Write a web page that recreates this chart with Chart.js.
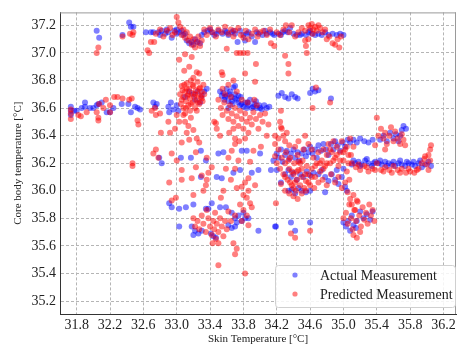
<!DOCTYPE html>
<html>
<head>
<meta charset="utf-8">
<script src="https://cdn.jsdelivr.net/npm/chart.js@4.4.0/dist/chart.umd.min.js"></script>
<style>
  html, body { margin: 0; padding: 0; background: #fff; }
  #wrap { width: 460px; height: 348px; }
</style>
</head>
<body>
<div id="wrap"><canvas id="scatter"></canvas></div>
<script>
// ============================= data (skin temp, core temp)

const xTicks = [31.8, 32.2, 32.6, 33.0, 33.4, 33.8, 34.2, 34.6, 35.0, 35.4, 35.8, 36.2]
const yTicks = [35.2, 35.4, 35.6, 35.8, 36.0, 36.2, 36.4, 36.6, 36.8, 37.0, 37.2]
const seriesLabels = ['Actual Measurement', 'Predicted Measurement']

const actualPoints = [
    // left band
    [31.73,36.61],[31.73,36.58],[31.73,36.55],[31.77,36.58],[31.8,36.58],[31.86,36.6],[31.9,36.64],[31.9,36.61],[31.96,36.6],[32.0,36.6],
    [32.04,36.62],[32.06,36.63],[32.1,36.64],[32.16,36.57],[32.2,36.57],[32.24,36.6],[32.34,36.63],[32.42,36.63],[32.45,36.57],[32.5,36.61],
    [32.53,36.6],[32.56,36.59],[32.72,36.64],[32.74,36.61],[32.76,36.63],[32.9,36.61],[32.93,36.64],[32.96,36.59],[33.0,36.62],[33.02,36.58],
    // top left
    [32.04,37.16],[32.07,37.11],[32.35,37.13],[32.43,37.22],[32.45,37.19],[32.48,37.19],[32.63,37.15],[32.69,37.15],[32.72,37.15],
    // top band
    [32.78,37.15],[32.82,37.16],[32.86,37.14],[32.9,37.15],[32.94,37.11],[32.97,37.16],[33.0,37.17],[33.03,37.15],[33.06,37.16],[33.1,37.14],
    [33.12,37.09],[33.15,37.07],[33.18,37.08],[33.2,37.06],[33.22,37.1],[33.25,37.08],[33.28,37.07],[33.3,37.13],[33.33,37.15],[33.37,37.16],
    [33.42,37.15],[33.45,37.13],[33.5,37.16],[33.55,37.14],[33.58,37.16],[33.62,37.13],[33.66,37.15],[33.7,37.14],[33.73,37.08],[33.76,37.16],
    [33.8,37.13],[33.82,37.09],[33.86,37.15],[33.9,37.12],[33.94,37.08],[33.98,37.14],[34.03,37.13],[34.08,37.14],[34.12,37.15],[34.17,37.13],
    [34.22,37.14],[34.27,37.15],[34.3,37.16],[34.36,37.18],[34.4,37.14],[34.44,37.13],[34.5,37.14],[34.55,37.13],[34.58,37.15],[34.62,37.14],
    [34.66,37.13],[34.7,37.14],[34.74,37.13],[34.78,37.15],[34.82,37.13],[34.87,37.14],[34.92,37.13],[34.96,37.14],[35.0,37.13],
    [32.8,37.13],[32.88,37.17],[33.0,37.14],[33.08,37.13],[33.4,37.17],[33.48,37.14],[33.6,37.15],[33.68,37.16],[33.84,37.14],[33.96,37.15],
    [34.06,37.16],[34.15,37.14],[34.25,37.13],[34.33,37.15],[34.48,37.13],[34.6,37.16],
    // 33.2 cluster
    [33.1,36.68],[33.15,36.72],[33.2,36.7],[33.25,36.72],[33.3,36.69],[33.33,36.72],[33.36,36.74],[33.22,36.66],[33.28,36.64],
    // 33.7 cluster
    [33.52,36.72],[33.54,36.69],[33.56,36.71],[33.57,36.66],[33.6,36.74],[33.6,36.69],[33.62,36.65],[33.64,36.72],[33.66,36.68],[33.67,36.63],
    [33.68,36.75],[33.7,36.7],[33.72,36.66],[33.74,36.64],[33.76,36.62],[33.77,36.68],[33.8,36.61],[33.82,36.64],[33.84,36.6],[33.86,36.62],
    [33.88,36.66],[33.9,36.6],[33.93,36.63],[33.96,36.6],[33.99,36.62],[34.02,36.59],[34.05,36.62],[34.08,36.6],[34.11,36.61],[33.62,36.6],[33.7,36.76],
    [33.58,36.68],[33.63,36.7],[33.66,36.65],[33.7,36.67],[33.74,36.69],[33.78,36.63],[33.85,36.64],[33.92,36.61],[33.95,36.65],[34.0,36.6],
    [34.22,36.69],[34.26,36.71],[34.3,36.68],[34.34,36.67],[34.38,36.7],[34.42,36.68],[34.45,36.67],
    [34.6,36.71],[34.63,36.74],[34.66,36.72],[34.7,36.73],[34.85,36.67],
    // middle scatter
    [32.91,36.57],[33.29,36.29],[32.79,36.24],[32.82,36.2],[33.05,36.24],[33.17,36.24],[33.35,36.22],[33.5,36.27],[33.56,36.28],[33.78,36.29],
    [33.84,36.29],[34.0,36.27],[33.68,36.13],[33.76,36.15],[33.9,36.13],[33.98,36.15],[34.13,36.15],[33.29,36.1],[33.48,36.1],[33.54,36.09],
    [32.91,35.91],[32.94,35.88],[33.03,35.87],[33.11,35.88],[33.2,35.9],[33.35,35.87],[33.38,35.87],[33.42,35.91],[33.52,35.88],[33.59,35.88],
    [33.66,35.84],[33.7,35.8],[33.74,35.82],[33.78,35.78],[33.82,35.8],[33.86,35.8],[33.72,35.77],[33.8,35.84],
    [33.03,35.74],[33.18,35.74],[33.22,35.71],[33.26,35.69],[33.3,35.71],[33.41,35.69],[33.44,35.67],[33.47,35.66],[33.62,35.75],[33.66,35.73],
    [33.7,35.74],[33.98,35.71],[34.19,35.74],[33.2,35.68],
    // right cluster
    [34.16,36.22],[34.2,36.27],[34.22,36.24],[34.25,36.3],[34.27,36.21],[34.3,36.26],[34.32,36.29],[34.35,36.23],[34.37,36.27],[34.4,36.3],
    [34.42,36.24],[34.45,36.28],[34.47,36.22],[34.5,36.27],[34.53,36.3],[34.55,36.25],[34.58,36.28],[34.6,36.32],[34.63,36.27],[34.66,36.3],
    [34.68,36.24],[34.7,36.33],[34.73,36.29],[34.76,36.34],[34.79,36.3],[34.82,36.26],[34.85,36.34],[34.88,36.3],[34.9,36.36],[34.93,36.33],
    [34.96,36.29],[34.99,36.35],[35.02,36.32],[35.05,36.37],[35.08,36.35],[35.12,36.37],[35.16,36.35],[35.2,36.38],[35.25,36.36],[35.3,36.35],[35.35,36.37],
    [34.2,36.15],[34.25,36.06],[34.3,36.12],[34.34,36.15],[34.37,36.1],[34.4,36.13],[34.44,36.08],[34.48,36.12],[34.52,36.1],[34.56,36.14],
    [34.6,36.11],[34.64,36.13],[34.34,36.0],[34.38,36.01],[34.42,35.98],[34.46,36.02],[34.5,36.0],[34.55,35.99],[34.6,36.0],[34.7,36.12],
    [34.74,36.15],[34.78,36.1],[34.82,36.07],[34.86,36.12],[34.9,36.08],[34.94,36.05],[34.98,36.1],[35.02,36.03],[35.04,36.0],[34.78,35.99],
    [34.92,36.15],[35.0,36.16],
    // 36.2 band to the right
    [35.1,36.19],[35.14,36.2],[35.18,36.21],[35.22,36.19],[35.26,36.22],[35.3,36.2],[35.34,36.18],[35.38,36.21],[35.42,36.2],[35.46,36.19],
    [35.5,36.21],[35.54,36.2],[35.58,36.19],[35.62,36.18],[35.66,36.2],[35.7,36.19],[35.74,36.18],[35.78,36.2],[35.82,36.19],[35.86,36.18],
    [35.9,36.2],[35.94,36.17],[35.98,36.19],[36.02,36.21],[36.05,36.18],
    [35.12,36.22],[35.2,36.18],[35.28,36.23],[35.36,36.2],[35.44,36.22],[35.52,36.18],[35.6,36.21],[35.68,36.22],[35.76,36.21],[35.84,36.21],[35.92,36.22],
    [35.44,36.37],[35.48,36.4],[35.52,36.36],[35.56,36.42],[35.6,36.38],[35.63,36.41],[35.66,36.36],[35.7,36.44],[35.72,36.47],[35.75,36.45],[35.68,36.4],
    // low cluster
    [35.0,35.77],[35.03,35.74],[35.06,35.78],[35.1,35.82],[35.12,35.75],[35.16,35.78],[35.2,35.85],[35.24,35.8],[35.28,35.83],[35.32,35.79],
    [35.35,35.85],[35.08,35.71],[35.15,35.73],
    [34.18,35.74],[34.37,35.77],[34.42,35.71],[34.6,35.77]
]

const predictedPoints = [
    // left band
    [31.73,36.59],[31.73,36.56],[31.73,36.52],[31.82,36.55],[31.85,36.54],[31.92,36.57],[32.04,36.57],[32.06,36.53],[32.06,36.51],[32.07,36.63],
    [32.15,36.66],[32.2,36.62],[32.25,36.68],[32.29,36.68],[32.35,36.67],[32.43,36.66],[32.46,36.67],[32.53,36.51],[32.54,36.48],[32.7,36.58],
    [32.75,36.55],[32.2,36.57],[32.12,36.6],[32.74,36.6],[32.8,36.56],
    [32.47,36.2],[32.47,36.18],[32.72,36.27],[32.78,36.24],[32.75,36.3],
    // top left
    [32.04,37.0],[32.06,37.04],[32.35,37.12],[32.44,37.14],[32.47,37.13],[32.48,37.15],[32.65,37.02],[32.67,37.0],[32.69,37.08],[32.73,37.08],
    // top band
    [32.75,37.14],[32.8,37.17],[32.84,37.12],[32.88,37.16],[32.92,37.18],[32.95,37.13],[32.98,37.15],[33.0,37.26],[33.02,37.22],[33.04,37.19],
    [33.06,37.13],[33.08,37.17],[33.1,37.11],[33.12,37.15],[33.14,37.09],[33.16,37.12],[33.18,37.06],[33.2,37.1],[33.22,37.04],[33.24,37.08],
    [33.26,37.12],[33.28,37.05],[33.3,37.09],[33.33,37.17],[33.36,37.13],[33.4,37.18],[33.43,37.15],[33.47,37.12],[33.5,37.17],[33.54,37.15],
    [33.58,37.19],[33.62,37.14],[33.65,37.17],[33.68,37.12],[33.7,37.16],[33.74,37.18],[33.77,37.13],[33.8,37.11],[33.83,37.16],[33.86,37.1],
    [33.9,37.14],[33.94,37.17],[33.97,37.12],[34.0,37.15],[34.04,37.16],[34.08,37.13],[34.12,37.17],[34.13,37.07],[34.17,37.05],[34.2,37.15],
    [34.24,37.13],[34.28,37.17],[34.31,37.2],[34.35,37.15],[34.38,37.2],[34.42,37.12],[34.46,37.15],[34.5,37.18],[34.54,37.16],[34.58,37.2],
    [34.6,37.18],[34.62,37.21],[34.64,37.17],[34.66,37.19],[34.68,37.16],[34.7,37.2],[34.72,37.18],[34.75,37.15],[34.78,37.17],[34.8,37.1],
    [34.83,37.12],[34.87,37.07],[34.9,37.06],[34.93,37.1],[34.95,37.04],[34.97,37.12],[34.58,37.1],[34.63,37.14],
    // between top band and clusters
    [33.03,36.95],[33.09,36.87],[33.18,36.97],[33.24,36.86],[33.27,36.85],[33.6,37.03],[33.72,37.0],[33.76,37.0],[33.8,37.0],[33.85,37.0],
    [33.95,36.92],[33.54,36.86],[33.55,36.84],[33.68,36.8],[33.82,36.85],[33.94,36.79],[34.34,36.92],[34.3,36.98],[34.54,37.09],[34.55,37.05],
    [34.56,37.0],[34.34,36.85],[33.1,36.99],[33.15,36.9],
    // 33.2 cluster
    [33.04,36.7],[33.05,36.63],[33.06,36.76],[33.08,36.68],[33.08,36.6],[33.1,36.72],[33.11,36.65],[33.12,36.78],[33.13,36.69],[33.14,36.62],
    [33.15,36.74],[33.16,36.67],[33.17,36.8],[33.18,36.71],[33.19,36.64],[33.2,36.76],[33.21,36.68],[33.22,36.6],[33.23,36.73],[33.24,36.66],
    [33.25,36.79],[33.26,36.7],[33.27,36.63],[33.28,36.75],[33.29,36.68],[33.3,36.72],[33.31,36.65],[33.32,36.77],[33.12,36.74],[33.2,36.82],[33.07,36.73],
    [33.06,36.66],[33.09,36.77],[33.11,36.6],[33.14,36.7],[33.17,36.63],[33.19,36.77],[33.22,36.7],[33.25,36.64],[33.27,36.74],[33.3,36.67],
    [33.1,36.56],[33.16,36.58],[33.24,36.58],[33.33,36.7],
    [33.0,36.55],[33.03,36.5],[32.98,36.45],[32.92,36.42],[32.9,36.5],[33.08,36.55],[33.1,36.5],[33.14,36.47],[33.17,36.53],[33.12,36.42],
    [33.2,36.44],[33.24,36.38],[33.27,36.35],[33.15,36.37],[33.06,36.35],[32.94,36.27],
    // 33.7 cloud
    [33.5,36.66],[33.53,36.6],[33.55,36.55],[33.57,36.64],[33.6,36.58],[33.62,36.52],[33.64,36.62],[33.66,36.56],[33.68,36.5],[33.7,36.6],
    [33.72,36.54],[33.74,36.47],[33.76,36.58],[33.78,36.52],[33.8,36.45],[33.82,36.56],[33.84,36.5],[33.86,36.42],[33.88,36.53],[33.9,36.48],
    [33.92,36.57],[33.95,36.52],[33.98,36.45],[34.0,36.55],[34.03,36.5],[34.06,36.56],[34.1,36.48],[33.58,36.7],[33.65,36.68],[33.72,36.72],
    [33.78,36.66],[33.85,36.64],[33.93,36.66],[33.63,36.42],[33.7,36.38],[33.75,36.36],[33.68,36.45],[33.45,36.5],[33.48,36.45],[33.52,36.4],
    [34.08,36.4],[33.82,36.38],[33.55,36.74],[33.62,36.77],[33.96,36.62],
    // middle scatter
    [33.0,36.22],[33.06,36.15],[33.23,36.17],[33.3,36.11],[33.36,36.08],[33.35,36.04],[33.06,36.08],[33.18,36.09],[32.91,36.06],[32.94,35.93],
    [32.99,35.95],[33.2,35.97],[33.32,36.0],[33.59,36.16],[33.65,36.08],[33.7,36.16],[33.72,36.02],[33.78,36.03],[33.82,36.06],[33.86,36.09],
    [33.86,36.0],[33.8,35.97],[33.84,35.95],[33.88,35.91],[33.94,36.04],[33.62,36.24],[33.66,36.29],[33.74,36.22],[33.88,36.21],[33.92,36.29],
    [33.7,36.34],[34.01,36.32],[33.56,36.0],[33.53,35.95],[33.38,36.13],[33.42,36.17],[33.23,36.28],[33.36,36.24],[34.18,36.34],[34.18,36.4],
    [34.25,36.46],[32.81,36.42],[33.47,36.49],
    // low cluster at 33.4
    [33.2,35.8],[33.22,35.74],[33.25,35.78],[33.27,35.72],[33.3,35.82],[33.32,35.76],[33.35,35.7],[33.38,35.8],[33.4,35.74],[33.42,35.68],
    [33.44,35.78],[33.45,35.72],[33.47,35.65],[33.48,35.76],[33.5,35.7],[33.52,35.8],[33.54,35.74],[33.56,35.67],[33.58,35.78],[33.6,35.72],
    [33.46,35.84],[33.43,35.62],[33.5,35.62],[33.36,35.86],[33.62,35.85],
    [33.68,35.62],[33.72,35.58],[33.7,35.54],[33.5,35.46],[33.82,35.4],[33.76,35.9],[33.8,35.86],[33.84,35.82],[33.78,35.78],[33.86,35.75],
    [33.65,35.78],[33.7,35.82],[33.9,35.88],
    // right cluster
    [34.24,36.5],[34.26,36.45],[34.28,36.4],[34.3,36.36],[34.32,36.42],[34.35,36.33],[34.22,36.38],[34.25,36.58],
    [34.18,36.25],[34.2,36.2],[34.22,36.3],[34.24,36.16],[34.26,36.24],[34.28,36.12],[34.3,36.2],[34.31,36.28],[34.33,36.08],[34.35,36.16],
    [34.36,36.24],[34.38,36.04],[34.4,36.12],[34.41,36.2],[34.43,36.0],[34.44,36.08],[34.45,36.26],[34.46,36.15],[34.48,36.04],[34.5,36.1],
    [34.51,36.22],[34.53,36.02],[34.55,36.07],[34.56,36.18],[34.58,36.12],[34.6,36.04],[34.62,36.16],[34.64,36.24],[34.66,36.1],[34.68,36.2],
    [34.7,36.28],[34.72,36.14],[34.74,36.22],[34.76,36.3],[34.78,36.18],[34.8,36.26],[34.82,36.34],[34.84,36.2],[34.86,36.28],[34.88,36.36],
    [34.9,36.24],[34.92,36.32],[34.94,36.18],[34.96,36.28],[34.98,36.36],[35.0,36.22],[35.02,36.3],[35.04,36.14],[35.06,36.26],[35.08,36.38],
    [35.1,36.2],[35.12,36.32],[34.85,36.12],[34.9,36.06],[34.94,36.1],[34.98,36.02],[35.02,36.06],[35.05,35.99],[35.07,36.08],[35.08,35.94],
    [35.1,35.9],[35.12,35.97],[35.14,35.86],[35.16,35.93],[34.42,36.32],[34.46,36.36],[34.52,36.3],[34.58,36.34],[34.62,36.3],[34.4,35.96],
    [34.45,35.94],[34.5,35.98],[34.35,35.98],[34.3,36.0],[34.25,36.05],[34.55,36.0],[34.65,36.02],[34.7,36.06],[34.75,36.08],[34.8,36.04],
    [34.3,36.1],[34.34,36.22],[34.38,36.14],[34.42,36.06],[34.46,36.21],[34.5,36.16],[34.54,36.12],[34.58,36.06],[34.62,36.1],[34.66,36.18],
    [34.72,36.2],[34.76,36.16],[34.8,36.2],[34.84,36.3],[34.88,36.22],[34.92,36.26],[34.96,36.22],[35.0,36.28],[35.04,36.32],[35.06,36.2],
    [35.09,36.26],[34.36,36.06],[34.4,36.02],[34.44,36.14],[34.48,36.2],
    [35.38,36.33],[35.42,36.4],[35.45,36.45],[35.48,36.38],[35.5,36.42],[35.52,36.34],[35.55,36.4],[35.57,36.46],[35.6,36.36],[35.62,36.43],
    [35.65,36.38],[35.68,36.34],[35.7,36.41],[35.72,36.37],[35.74,36.33],[35.4,36.53],[35.5,36.3],
    [35.15,36.17],[35.2,36.15],[35.25,36.18],[35.3,36.14],[35.35,36.16],[35.4,36.2],[35.45,36.15],[35.5,36.17],[35.55,36.15],[35.6,36.18],
    [35.65,36.15],[35.7,36.16],[35.75,36.13],[35.8,36.14],[35.85,36.13],[35.9,36.16],[35.94,36.2],[35.97,36.23],[36.0,36.19],[36.02,36.26],
    [36.04,36.3],[36.04,36.22],[36.02,36.15],[35.98,36.25],[36.05,36.33],
    [35.18,36.19],[35.28,36.17],[35.38,36.15],[35.48,36.14],[35.58,36.13],[35.68,36.13],[35.78,36.16],[35.88,36.15],
    [35.0,35.8],[35.03,35.84],[35.05,35.76],[35.07,35.9],[35.09,35.8],[35.11,35.72],[35.13,35.86],[35.15,35.78],[35.17,35.92],[35.19,35.82],
    [35.21,35.74],[35.23,35.88],[35.25,35.79],[35.27,35.84],[35.29,35.76],[35.31,35.9],[35.33,35.82],[35.35,35.86],[35.37,35.78],[35.12,35.68],
    [35.16,35.66],[35.2,35.7],
    [34.54,36.4],[34.67,36.75],[34.63,36.6],[34.84,36.64],[34.19,35.91],[34.37,35.69],[34.42,35.66],[34.6,35.71]
]

const seriesColors = ['rgba(0, 0, 255, 0.5)', 'rgba(255, 0, 0, 0.5)']

// ============================= helpers

const serif = '"Liberation Serif", "Times New Roman", serif'
const toXY = (list) => list.map(p => ({ x: p[0], y: p[1] }))

// draws the top / right frame lines like matplotlib spines
const framePlugin = {
    id: 'frame',
    afterDraw: (chart) => {
        const { ctx, chartArea: a } = chart
        ctx.save()
        ctx.strokeStyle = '#9a9a9a'
        ctx.lineWidth = 1
        ctx.beginPath()
        ctx.moveTo(a.left, a.top + 0.5)
        ctx.lineTo(a.right, a.top + 0.5)
        ctx.moveTo(a.right - 0.5, a.top)
        ctx.lineTo(a.right - 0.5, a.bottom)
        ctx.stroke()
        ctx.restore()
    }
}

// legend box inside the plot, lower right corner
const innerLegend = {
    id: 'innerLegend',
    afterDraw: (chart) => {
        const { ctx, chartArea: a } = chart
        const w = 180, h = 42
        const x = a.right - w - 1, y = a.bottom - h - 7
        ctx.save()
        ctx.fillStyle = 'rgba(255,255,255,0.85)'
        ctx.strokeStyle = '#d0d0d0'
        ctx.lineWidth = 1
        ctx.beginPath()
        ctx.roundRect(x + 0.5, y + 0.5, w, h, 3)
        ctx.fill()
        ctx.stroke()

        chart.data.datasets.forEach((ds, i) => {
            const cy = y + 10 + i * 19
            ctx.fillStyle = ds.backgroundColor
            ctx.beginPath()
            ctx.arc(x + 20, cy, 2.6, 0, Math.PI * 2)
            ctx.fill()
            ctx.fillStyle = '#222'
            ctx.font = '14px ' + serif
            ctx.textBaseline = 'middle'
            ctx.fillText(ds.label, x + 45, cy + 1)
        })
        ctx.restore()
    }
}

// ============================= chart

const gridStyle = { color: '#b5b5b5', lineWidth: 1, drawTicks: false }
const tickFont = { family: serif, size: 14 }

new Chart(document.getElementById('scatter'), {
    type: 'scatter',
    data: {
        datasets: [
            { label: seriesLabels[0], data: toXY(actualPoints), backgroundColor: seriesColors[0], borderWidth: 0, pointRadius: 3, order: 1 },
            { label: seriesLabels[1], data: toXY(predictedPoints), backgroundColor: seriesColors[1], borderWidth: 0, pointRadius: 3, order: 0 }
        ]
    },
    options: {
        responsive: true,
        maintainAspectRatio: false,
        animation: false,
        layout: { padding: { top: 12, right: 1, left: 0, bottom: 0 } },
        plugins: {
            legend: { display: false },
            tooltip: { enabled: false }
        },
        scales: {
            x: {
                type: 'linear',
                min: 31.6,
                max: 36.35,
                afterBuildTicks: (s) => { s.ticks = xTicks.map(v => ({ value: v })) },
                afterFit: (s) => { s.height = 34 },
                ticks: { font: tickFont, color: '#222', padding: 3, maxRotation: 0, callback: (v) => v.toFixed(1) },
                grid: gridStyle,
                border: { color: '#333', width: 1, dash: [3, 2] },
                title: { display: true, text: 'Skin Temperature [°C]', font: { family: serif, size: 11 }, color: '#222', padding: { top: 0, bottom: 2 } }
            },
            y: {
                type: 'linear',
                min: 35.106,
                max: 37.294,
                afterBuildTicks: (s) => { s.ticks = yTicks.map(v => ({ value: v })) },
                afterFit: (s) => { s.width = 60 },
                ticks: { font: tickFont, color: '#222', padding: 4, callback: (v) => v.toFixed(1) },
                grid: gridStyle,
                border: { color: '#333', width: 1, dash: [3, 2] },
                title: { display: true, text: 'Core body temperature [°C]', font: { family: serif, size: 11 }, color: '#222', padding: { top: 12, bottom: 0 } }
            }
        }
    },
    plugins: [framePlugin, innerLegend]
})
</script>
</body>
</html>
